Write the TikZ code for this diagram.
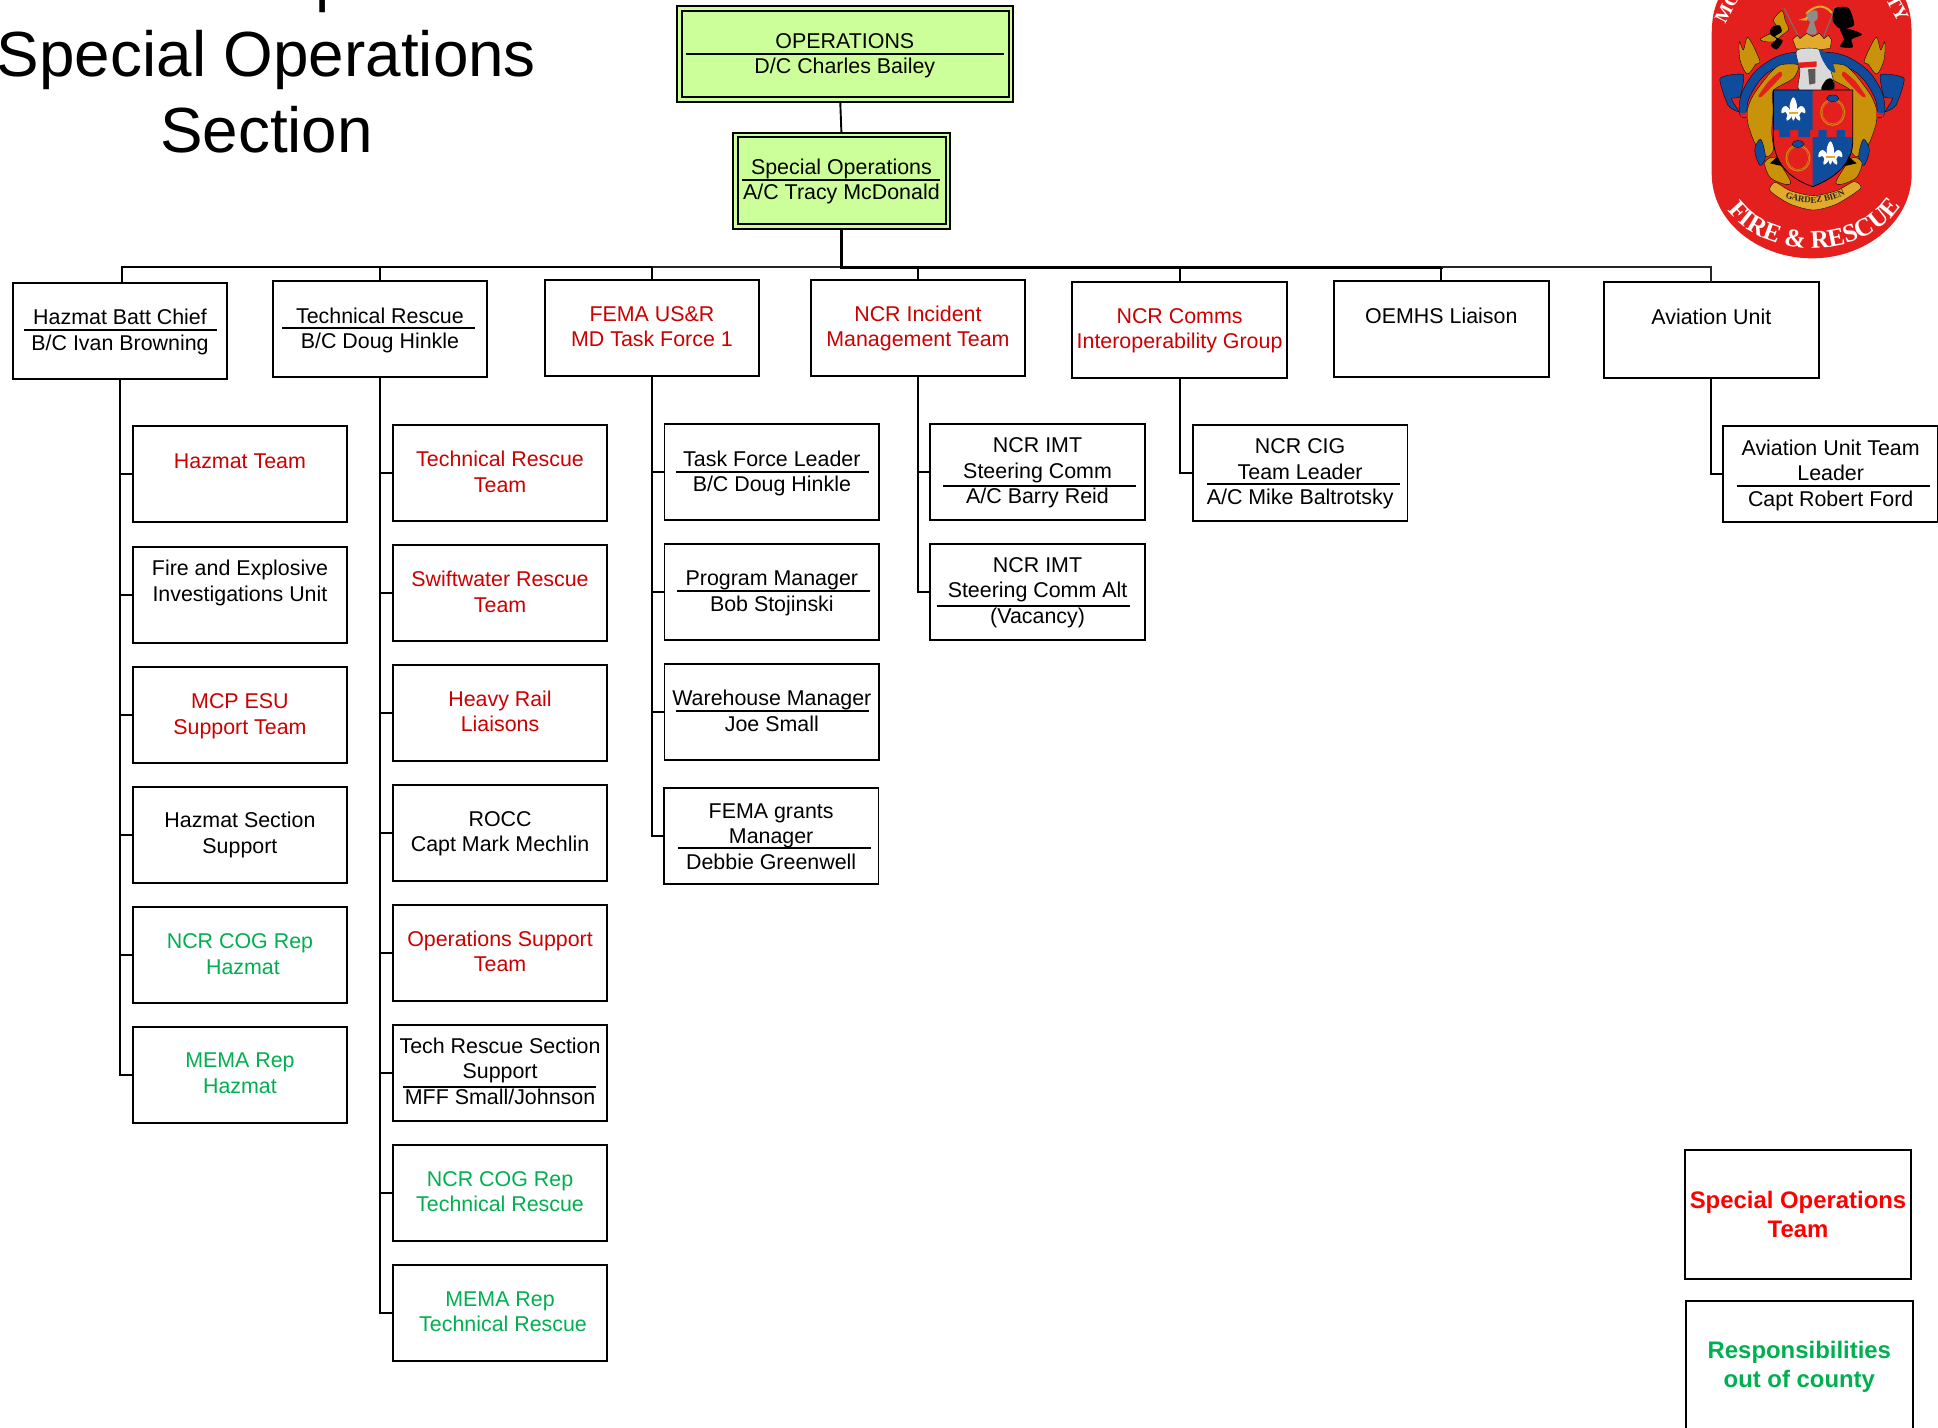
\documentclass[tikz,border=0pt]{standalone}
\usepackage{fontspec}
\setmainfont{Liberation Sans}
\newfontfamily\logofont{Liberation Serif}
\usetikzlibrary{decorations.text,calc}
\definecolor{opsgreen}{HTML}{CCFF99}
\definecolor{teamred}{HTML}{CC0000}
\definecolor{legred}{HTML}{FF0000}
\definecolor{repgreen}{HTML}{00B050}
\definecolor{logored}{HTML}{E4201F}
\definecolor{logogold}{HTML}{C8920A}
\definecolor{logoyellow}{HTML}{E2A92A}
\definecolor{logoblue}{HTML}{0F4C9C}
\tikzset{
  orgbox/.style={draw=black,line width=1.9pt,anchor=north west,inner sep=0pt,outer sep=0pt,
    font=\fontsize{21.4}{25.5}\selectfont,fill=white},
  redt/.style={text=teamred},
  greent/.style={text=repgreen},
  greenbox/.style={fill=opsgreen},
  legendbox/.style={font=\fontsize{23.9}{29}\selectfont\bfseries,yshift=-.7pt},
  conn/.style={draw=black,line width=1.9pt},
  thickconn/.style={draw=black,line width=3pt},
  greyconn/.style={draw=black!85,line width=1.9pt},
  seplinetop/.style={draw=black,line width=1.9pt},
  sepline/.style={draw=black,line width=1.9pt,yshift=-.7pt},
  crestline/.style={draw=black,line width=.35pt},
  titletext/.style={font=\fontsize{63.8}{76}\selectfont,anchor=base,inner sep=0pt},
}
\newcommand\wbox[8][]{\node[orgbox,minimum width=#5pt,minimum height=#6pt,#1] (#2) at (#3,#4)
  {\parbox[c][#6pt][t]{#5pt}{\centering\vspace*{\dimexpr#7pt-20pt\relax}\rule{0pt}{20pt}#8\par}};}
\newcommand\obox[6][]{\wbox[yshift=-.7pt,#1]{#2}{#3}{#4}{214.7}{96}{#5}{#6}}
\newcommand\fleur[2]{\begin{scope}[shift={(#1,#2)}]
  \fill[white] plot[smooth cycle,tension=.7] coordinates {(0,-40)(11,-15)(7,12)(0,30)(-7,12)(-11,-15)};
  \fill[white] plot[smooth cycle,tension=.7] coordinates {(-8,2)(-22,-14)(-34,-6)(-35,8)(-24,4)(-14,18)};
  \fill[white] plot[smooth cycle,tension=.7] coordinates {(8,2)(22,-14)(34,-6)(35,8)(24,4)(14,18)};
  \fill[logoyellow] (-14,4) rectangle (14,10);
  \fill[white] plot[smooth cycle,tension=.7] coordinates {(-5,10)(-18,14)(-20,30)(-8,22)};
  \fill[white] plot[smooth cycle,tension=.7] coordinates {(5,10)(18,14)(20,30)(8,22)};
\end{scope}}
\newcommand\ringmark[2]{\begin{scope}[shift={(#1,#2)}]
  \draw[logogold,line width=1pt] (0,0) ellipse (12pt and 13pt);
  \draw[logogold,line width=.5pt] (0,0) ellipse (10.5pt and 11.5pt);
  \fill[logoblue,crestline] (0,-42) ellipse (6pt and 3.4pt);
\end{scope}}
\newcommand\mantling{%
  \fill[logogold,crestline] plot[smooth cycle,tension=.55] coordinates {(262,112)(282,142)(300,186)(288,192)(262,222)(240,180)(238,125)(250,150)};
  \fill[logoblue,crestline] plot[smooth cycle,tension=.55] coordinates {(415,158)(350,170)(285,215)(245,280)(238,340)(258,352)(265,300)(300,240)(345,205)(410,196)};
  \fill[logoblue,crestline] plot[smooth cycle,tension=.35] coordinates {(180,235)(250,224)(240,290)(214,296)(236,335)(204,316)};
  \fill[logogold,crestline] plot[smooth cycle,tension=.45] coordinates {(415,195)(360,195)(325,225)(280,285)(262,330)(264,372)(285,430)(320,470)(340,450)(335,395)(340,330)(340,272)(400,235)};
  \fill[logored] plot[smooth cycle,tension=.4] coordinates {(360,215)(325,245)(295,288)(305,290)(340,255)(366,226)};
  \fill[logoblue,crestline] plot[smooth cycle,tension=.6] coordinates {(302,418)(284,450)(300,496)(316,470)};
  \fill[logored] (238,338) .. controls (250,345) and (262,340) .. (262,328) -- (264,350) -- (245,352) -- cycle;
}
\begin{document}
\begin{tikzpicture}[x=1pt,y=-1pt]
\clip[use as bounding box] (0,0) rectangle (1938,1427);
% title
\node[titletext,anchor=base west] (tp) at (315.6,-0.7) {p};
\node[titletext] (t1) at (266.5,76) {Special Operations};
\node[titletext] (t2) at (266.5,152.7) {Section};
% top boxes
\wbox[greenbox]{ops}{676.7}{5.7}{336.3}{96.3}{42.3}{OPERATIONS\\D/C Charles Bailey}
\wbox[greenbox]{sop}{733}{132.7}{216.8}{96.3}{41.3}{Special Operations\\A/C Tracy McDonald}
\draw[line width=1.9pt] (681.6,10.7) rectangle (1008.6,97.3);
\draw[line width=1.9pt] (738.4,137.3) rectangle (945.7,224);
\draw[seplinetop] (686,53.7) -- (1003.7,53.7);
\draw[seplinetop] (742,180.3) -- (940.4,180.3);
% first row
\obox{hazC}{12.7}{282}{42}{Hazmat Batt Chief\\B/C Ivan Browning}
\obox{tecC}{272.6}{280.7}{42}{Technical Rescue\\B/C Doug Hinkle}
\obox[redt]{fema}{544.6}{279.3}{41}{FEMA US\&R\\MD Task Force 1}
\obox[redt]{imt}{810.6}{279.3}{41}{NCR Incident\\Management Team}
\obox[redt]{cig}{1072.2}{281}{41.7}{NCR Comms\\Interoperability Group}
\obox{oem}{1334}{280.7}{42}{OEMHS Liaison}
\obox{avi}{1604}{281.3}{42}{Aviation Unit}
\draw[sepline] (24,329) -- (216.7,329);
\draw[sepline] (282.4,327.7) -- (475,327.7);
% hazmat column
\obox[redt]{hz1}{132.6}{425.7}{42.3}{Hazmat Team}
\obox{hz2}{132.6}{546}{29}{Fire and Explosive\\Investigations Unit}
\obox[redt]{hz3}{132.6}{666}{42}{MCP ESU\\Support Team}
\obox{hz4}{132.6}{786}{40.8}{Hazmat Section\\Support}
\obox[greent]{hz5}{132.6}{906}{42}{NCR COG Rep\\\hspace*{6pt}Hazmat}
\obox[greent]{hz6}{132.6}{1026}{41}{MEMA Rep\\Hazmat}
% technical rescue column
\obox[redt]{tr1}{392.7}{424.3}{41.7}{Technical Rescue\\Team}
\obox[redt]{tr2}{392.7}{544.3}{41.7}{Swiftwater Rescue\\Team}
\obox[redt]{tr3}{392.7}{664.3}{41.4}{Heavy Rail\\Liaisons}
\obox{tr4}{392.7}{784.7}{41}{ROCC\\Capt Mark Mechlin}
\obox[redt]{tr5}{392.7}{904.7}{41}{Operations Support\\Team}
\obox{tr6}{392.7}{1024.3}{28.2}{Tech Rescue Section\\Support\\MFF Small/Johnson}
\obox[greent]{tr7}{392.7}{1144.3}{41.4}{NCR COG Rep\\Technical Rescue}
\obox[greent]{tr8}{392.7}{1264.3}{41.4}{MEMA Rep\\\hspace*{6pt}Technical Rescue}
\draw[sepline] (403,1086) -- (596,1086);
% FEMA column
\obox{fm1}{664.5}{423.3}{42}{Task Force Leader\\B/C Doug Hinkle}
\obox{fm2}{664.5}{543.3}{41.5}{Program Manager\\Bob Stojinski}
\obox{fm3}{664.5}{663.3}{41.5}{Warehouse Manager\\Joe Small}
\obox{fm4}{663.8}{787.3}{30}{FEMA grants\\Manager\\Debbie Greenwell}
\draw[sepline] (676,471) -- (869,471);
\draw[sepline] (676.8,590.7) -- (869.7,590.7);
\draw[sepline] (676.4,710.3) -- (869.3,710.3);
\draw[sepline] (677.9,847.7) -- (871,847.7);
% NCR IMT column
\obox{im1}{930.2}{423.3}{28.6}{NCR IMT\\Steering Comm\\A/C Barry Reid}
\obox{im2}{930.2}{543.3}{28}{NCR IMT\\Steering Comm Alt\\(Vacancy)}
\draw[sepline] (943,485.7) -- (1136,485.7);
\draw[sepline] (937,605) -- (1130,605);
% CIG, aviation
\obox{cg1}{1192.8}{424}{29}{NCR CIG\\Team Leader\\A/C Mike Baltrotsky}
\draw[sepline] (1207,483.7) -- (1399.6,483.7);
\obox{av1}{1723.3}{425.3}{29}{Aviation Unit Team\\Leader\\Capt Robert Ford}
\draw[sepline] (1737,485) -- (1929.6,485);
% connectors
\coordinate (bus) at (0,267.4);
\draw[conn] ([xshift=-4.6pt]ops.south) -- (sop.north);
\draw[thickconn] (sop.south) -- (sop.south |- bus);
\draw[conn] ([xshift=1.6pt]hazC.north) -- ([xshift=1.6pt]hazC.north |- bus) -- (fema.north |- bus);
\draw[greyconn] (fema.north |- bus) -- (sop.south |- bus);
\draw[thickconn,line cap=rect] (sop.south |- bus) -- (oem.north |- bus);
\draw[greyconn] (oem.north |- bus) -- (avi.north |- bus) -- (avi.north);
\foreach \b in {tecC,fema,imt,cig,oem} {\draw[conn] (\b.north) -- (\b.north |- bus);}
\draw[conn] (hazC.south) -- (hazC.south |- hz6.west) -- (hz6.west);
\foreach \b in {hz1,hz2,hz3,hz4,hz5} {\draw[conn] (hazC.south |- \b.west) -- (\b.west);}
\draw[conn] (tecC.south) -- (tecC.south |- tr8.west) -- (tr8.west);
\foreach \b in {tr1,tr2,tr3,tr4,tr5,tr6,tr7} {\draw[conn] (tecC.south |- \b.west) -- (\b.west);}
\draw[conn] (fema.south) -- (fema.south |- fm4.west) -- (fm4.west);
\foreach \b in {fm1,fm2,fm3} {\draw[conn] (fema.south |- \b.west) -- (\b.west);}
\draw[conn] (imt.south) -- (imt.south |- im2.west) -- (im2.west);
\draw[conn] (imt.south |- im1.west) -- (im1.west);
\draw[conn] (cig.south) -- (cig.south |- cg1.west) -- (cg1.west);
\draw[conn] (avi.south) -- (avi.south |- av1.west) -- (av1.west);
% legend
\wbox[legendbox,text=legred]{leg1}{1684.7}{1149.7}{226.6}{128.6}{58}{Special Operations\\Team}
\wbox[legendbox,text=repgreen]{leg2}{1686}{1300.7}{226.6}{128.6}{57.4}{Responsibilities\\out of county}
% logo
\begin{scope}[shift={(1660,0)},x=.33333pt,y=-.33333pt]
  \fill[logored] (185,-20) .. controls (160,20) and (155,60) .. (155,110) -- (155,520)
     .. controls (155,670) and (300,775) .. (456,775)
     .. controls (612,775) and (755,670) .. (755,520) -- (755,110)
     .. controls (755,60) and (750,20) .. (727,-20) -- cycle;
  \mantling
  \begin{scope}[shift={(912,0)},xscale=-1]
    \mantling
  \end{scope}
  % spears, flags, knight
  \draw[black!55,line width=1.1pt] (372,25) -- (415,108);
  \draw[black!55,line width=1.1pt] (527,18) -- (492,108);
  \fill[logogold,crestline] plot[smooth cycle,tension=.5] coordinates {(366,32)(340,60)(352,88)(300,118)(338,126)(368,104)(386,88)(376,62)};
  \fill[black] plot[smooth cycle,tension=.5] coordinates {(335,82)(358,76)(365,95)(345,110)(368,122)(350,148)(332,135)(350,118)(330,102)};
  \fill[black] plot[smooth cycle,tension=.4] coordinates {(525,24)(566,24)(582,76)(540,86)(518,62)};
  \fill[black] plot[smooth cycle,tension=.5] coordinates {(540,84)(578,90)(606,104)(575,118)(578,142)(540,140)(552,118)};
  \draw[logoyellow,line width=2pt,line cap=round] (440,40) .. controls (460,20) and (490,8) .. (515,38);
  \fill[black!45] plot[smooth cycle,tension=.6] coordinates {(445,38)(470,32)(472,58)(462,66)(470,100)(440,100)(450,66)(438,55)};
  \fill[logoyellow] (415,60) -- (445,50) -- (440,62) -- cycle;
  % crown and helmet
  \fill[logoyellow,crestline] (398,118) -- (412,106) -- (420,116) -- (440,100) -- (458,110) -- (478,100) -- (492,116) -- (505,106) -- (515,120) -- (510,145) -- (460,152) -- (408,146) -- cycle;
  \fill[black!15,crestline] plot[smooth cycle,tension=.5] coordinates {(410,152)(470,146)(498,170)(520,240)(522,262)(490,255)(480,280)(430,278)(414,262)(420,212)};
  \fill[logored] (414,188) -- (470,184) -- (470,200) -- (418,204) -- cycle;
  \fill[black!65] (444,208) -- (466,206) -- (466,250) -- (448,254) -- cycle;
  \fill[black] plot[smooth cycle,tension=.5] coordinates {(484,268)(498,240)(516,236)(522,266)};
  \fill[logoblue] plot[smooth cycle,tension=.5] coordinates {(478,148)(508,168)(526,216)(506,208)(486,176)};
  % shield
  \begin{scope}
    \clip (340,270) -- (578,270) -- (578,430) .. controls (575,500) and (510,540) .. (458,560) .. controls (400,540) and (345,500) .. (340,420) -- cycle;
    \fill[logored] (330,260) rectangle (590,570);
    \fill[logoblue] (330,260) -- (458,260) -- (458,390) -- (450,390) -- (450,411) -- (415,411) -- (415,390) -- (390,390) -- (390,411) -- (358,411) -- (358,390) -- (330,390) -- cycle;
    \fill[logoblue] (458,570) -- (458,411) -- (475,411) -- (475,390) -- (500,390) -- (500,411) -- (530,411) -- (530,390) -- (555,390) -- (555,411) -- (590,411) -- (590,570) -- cycle;
  \end{scope}
  \draw[black,line width=.8pt] (340,270) -- (578,270) -- (578,430) .. controls (575,500) and (510,540) .. (458,560) .. controls (400,540) and (345,500) .. (340,420) -- cycle;
  \fleur{400}{332}
  \fleur{511}{464}
  \ringmark{518}{337}
  \ringmark{414}{474}
  % motto scroll
  \fill[logogold,crestline] plot[smooth cycle,tension=.5] coordinates {(314,488)(345,474)(392,545)(372,552)(330,532)};
  \fill[logogold,crestline] plot[smooth cycle,tension=.5] coordinates {(606,488)(575,474)(528,545)(548,552)(590,532)};
  \fill[black] (330,490) -- (352,470) -- (365,498) -- cycle;
  \fill[black] (590,490) -- (565,470) -- (555,498) -- cycle;
  \fill[logoyellow,crestline] plot[smooth cycle,tension=.45] coordinates {(330,572)(390,612)(460,630)(530,612)(602,565)(582,545)(530,572)(460,587)(390,572)(346,547)};
  \path[decorate,decoration={text along path,text align=center,
     text={|\logofont\bfseries\fontsize{9}{10}\selectfont\color{black!85}|GARDEZ BIEN}}]
     (340,566) .. controls (400,625) and (520,625) .. (590,556);
  % rim lettering
  \path[decorate,decoration={text along path,text align=center,
     text={|\logofont\bfseries\fontsize{25.5}{27}\selectfont\color{white}|FIRE {\&} RESCUE}}]
     (182,600) .. controls (285,795) and (645,795) .. (740,585);
  \node[text=white,font=\logofont\bfseries\fontsize{19}{20}\selectfont,rotate=62,inner sep=0pt] (logoL) at (202,22) {MO};
  \node[text=white,font=\logofont\bfseries\fontsize{19}{20}\selectfont,rotate=-62,inner sep=0pt] (logoR) at (712,24) {TY};
\end{scope}
\end{tikzpicture}
\end{document}
